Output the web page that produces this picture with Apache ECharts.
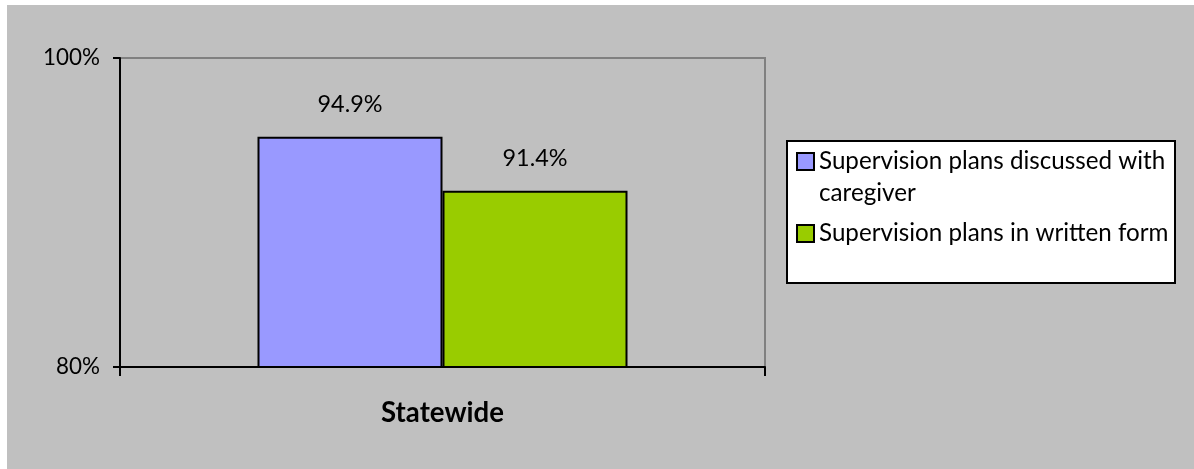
<!DOCTYPE html>
<html>
<head>
<meta charset="utf-8">
<script src="https://cdn.jsdelivr.net/npm/echarts@6/dist/echarts.min.js"></script>
<style>
  html, body { margin: 0; padding: 0; background: #ffffff; }
  #bg { position: absolute; left: 7px; top: 5px; right: 0; bottom: 0; background: #c0c0c0; }
  #chart { position: absolute; left: 0; top: 0; width: 1194px; height: 469px; }
</style>
</head>
<body>
<div id="bg"></div>
<div id="chart"></div>
<script>
// ---- data ----
const categories = ['Statewide'];
const seriesNames = ['Supervision plans discussed with caregiver', 'Supervision plans in written form'];
const discussedValues = [94.9];
const writtenValues = [91.4];
const yTickValues = [80, 100];

// ---- font fitting (style only) ----
const FONT = 'Lato';
const mctx = document.createElement('canvas').getContext('2d');
function fitSize(text, targetWidth, weight) {
  mctx.font = (weight || 'normal') + ' 100px ' + FONT;
  return Math.round(100 * targetWidth / mctx.measureText(text).width * 10) / 10;
}
const legendSize = fitSize(seriesNames[1], 350);
const axisSize = fitSize(yTickValues[1] + '%', 57);
const valueSize = fitSize(discussedValues[0] + '%', 65);
const catSize = fitSize(categories[0], 123, 'bold');

const chart = echarts.init(document.getElementById('chart'), null, { renderer: 'canvas' });
const labelCommon = {
  show: true,
  position: 'top',
  distance: 21,
  formatter: p => p.value.toFixed(1) + '%',
  color: '#000',
  fontFamily: FONT,
  fontSize: valueSize
};
const option = {
  animation: false,
  backgroundColor: 'transparent',
  textStyle: { fontFamily: FONT },
  graphic: [{
    type: 'rect',
    z: 0,
    shape: { x: 787, y: 141, width: 388, height: 142 },
    style: { fill: '#ffffff', stroke: '#000000', lineWidth: 2 }
  }],
  grid: {
    left: 120, top: 58, width: 645, height: 309,
    show: true, borderColor: '#808080', borderWidth: 2, backgroundColor: 'transparent'
  },
  legend: {
    orient: 'vertical',
    left: 796,
    top: 113.5,
    padding: 0,
    itemWidth: 17,
    itemHeight: 17,
    itemGap: 8,
    icon: 'rect',
    z: 10,
    selectedMode: false,
    // leading blank line keeps the marker level with the first text line of a wrapped item
    formatter: name => (name === seriesNames[0] ? '\n' + name : name),
    textStyle: {
      color: '#000', fontFamily: FONT, fontSize: legendSize, lineHeight: 32,
      width: 362, overflow: 'break'
    },
    data: seriesNames
  },
  xAxis: {
    type: 'category',
    data: categories,
    axisLine: { show: true, lineStyle: { color: '#000', width: 2 } },
    axisTick: { show: true, length: 9, lineStyle: { color: '#000', width: 2 } },
    axisLabel: { color: '#000', fontWeight: 'bold', fontFamily: FONT, fontSize: catSize, margin: 32 },
    splitLine: { show: false }
  },
  yAxis: {
    type: 'value',
    min: yTickValues[0],
    max: yTickValues[yTickValues.length - 1],
    interval: yTickValues[1] - yTickValues[0],
    axisLine: { show: true, lineStyle: { color: '#000', width: 2 } },
    axisTick: { show: true, length: 7, lineStyle: { color: '#000', width: 2 } },
    axisLabel: { color: '#000', fontFamily: FONT, fontSize: axisSize, margin: 20, formatter: '{value}%' },
    splitLine: { show: false }
  },
  series: [
    {
      name: seriesNames[0],
      type: 'bar',
      data: discussedValues,
      barWidth: 185,
      barGap: '0%',
      itemStyle: { color: '#9999ff', borderColor: '#000', borderWidth: 2 },
      label: labelCommon
    },
    {
      name: seriesNames[1],
      type: 'bar',
      data: writtenValues,
      barWidth: 185,
      barGap: '0%',
      itemStyle: { color: '#99cc00', borderColor: '#000', borderWidth: 2 },
      label: labelCommon
    }
  ]
};
chart.setOption(option);
</script>
</body>
</html>
